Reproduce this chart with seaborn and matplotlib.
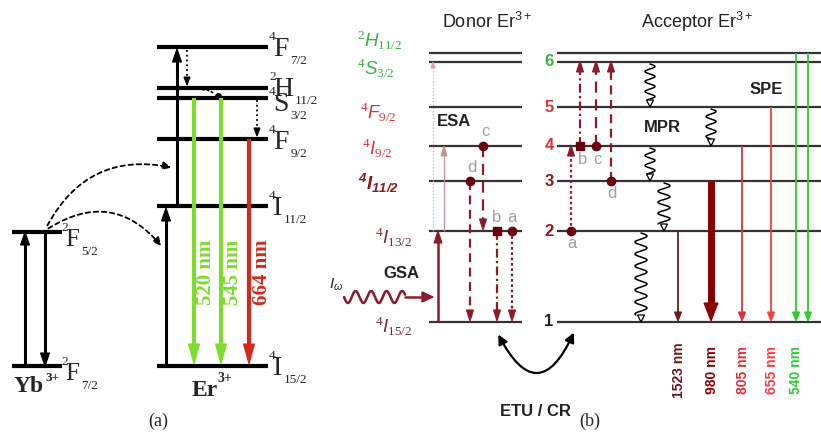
"""
Er3+ / Yb3+ energy level diagrams: (a) Yb-Er upconversion, (b) Er-Er donor/acceptor
"""

import numpy as np
import matplotlib
matplotlib.use('Agg')
import matplotlib.pyplot as plt
from matplotlib.patches import Polygon, FancyArrowPatch
import seaborn as sns

sns.set_theme(style='white')
plt.rcParams['font.family'] = ['Liberation Sans', 'DejaVu Sans']
plt.rcParams['mathtext.fontset'] = 'custom'
plt.rcParams['mathtext.rm'] = 'Liberation Serif'
plt.rcParams['mathtext.sf'] = 'Liberation Sans'
plt.rcParams['mathtext.it'] = 'Liberation Sans:italic'
plt.rcParams['mathtext.bf'] = 'Liberation Sans:italic:bold'

# ---- data: panel (a), energies above ground (diagram units) ----
yb_terms = [('2', 'F', '7/2'), ('2', 'F', '5/2')]
yb_energy = [0, 134]
er_a_terms = [('4', 'I', '15/2'), ('4', 'I', '11/2'), ('4', 'F', '9/2'),
              ('4', 'S', '3/2'), ('2', 'H', '11/2'), ('4', 'F', '7/2')]
er_a_energy = [0, 160, 227, 268, 278, 319]
emis_a_nm = [520, 545, 664]
emis_a_from = [268, 268, 227]
emis_a_color = ['#7ddc2e', '#7ddc2e', '#d42a1e']

# ---- data: panel (b) ----
donor_terms = [('4', 'I', '15/2'), ('4', 'I', '13/2'), ('4', 'I', '11/2'), ('4', 'I', '9/2'),
               ('4', 'F', '9/2'), ('4', 'S', '3/2'), ('2', 'H', '11/2')]
donor_energy = [0, 91, 141, 176, 215, 260, 269]
donor_color = ['#7a2a2a', '#7a2a2a', '#8b1a1a', '#d8343a', '#d8343a', '#3cb043', '#3cb043']
acc_index = ['1', '2', '3', '4', '5', '6']
acc_color = ['#222222', '#8b1a1a', '#8b1a1a', '#d8343a', '#d8343a', '#3cb043']
spe_nm = ['1523 nm', '980 nm', '805 nm', '655 nm', '540 nm', '']
spe_from = [91, 141, 176, 215, 269, 269]
spe_color = ['#6b1a22', '#8b0000', '#e0303a', '#ff3a3a', '#2ecc2e', '#2ecc2e']
spe_lw = [1.3, 5.0, 1.3, 1.3, 1.3, 1.3]

fig = plt.figure(figsize=(8.21, 4.37), dpi=100)
ax = fig.add_axes([0, 0, 1, 1])
ax.set_xlim(0, 821)
ax.set_ylim(437, 0)
ax.axis('off')

BASE_A, BASE_B = 366, 322
serif = 'Liberation Serif'
letter_w = {'F': 0.556, 'H': 0.722, 'S': 0.556, 'I': 0.333}


def ya(e):
    return BASE_A - e


def yb(e):
    return BASE_B - e


def term_a(x, yc, sup, L, sub, size=20):
    # serif spectroscopic term: small left superscript, big letter, low subscript
    em = size * 100 / 72
    ax.text(x, yc - 10, sup, family=serif, fontsize=9.5, ha='left', va='center')
    ax.text(x + 4, yc + 0.33 * em, L, family=serif, fontsize=size, ha='left', va='baseline')
    ax.text(x + 6 + letter_w[L] * em, yc + 14, sub, family=serif, fontsize=9.5,
            ha='left', va='center')


def varrow(x, y0, y1, color, lw, ls='-', hw=8, hl=12, hollow=False):
    d = np.sign(y1 - y0)
    ax.plot([x, x], [y0, y1 - d * hl * 0.7], color=color, lw=lw, ls=ls,
            solid_capstyle='butt', dash_capstyle='butt')
    ax.add_patch(Polygon([[x - hw / 2, y1 - d * hl], [x + hw / 2, y1 - d * hl], [x, y1]],
                         closed=True, facecolor='white' if hollow else color,
                         edgecolor=color, lw=0.8, zorder=4))


def wavy(x, y0, y1, amp=5, period=10, color='black', lw=1.1):
    y = np.linspace(y0, y1 - 7, 200)
    xs = x + amp * np.sin(2 * np.pi * (y - y0) / period)
    ax.plot(xs, y, color=color, lw=lw)
    ax.add_patch(Polygon([[x - 3.5, y1 - 7], [x + 3.5, y1 - 7], [x, y1]], closed=True,
                         facecolor='white', edgecolor=color, lw=0.9, zorder=4))


# ================= panel (a) =================
for e, (s, L, sub) in zip(yb_energy, yb_terms):
    ax.plot([12, 62], [ya(e)] * 2, color='black', lw=3.0, solid_capstyle='butt')
    term_a(61, ya(e) + 6, s, L, sub, size=18)
label_shift = [0, 0, 1, 4, -1, 0]
for e, (s, L, sub), dy in zip(er_a_energy, er_a_terms, label_shift):
    ax.plot([157, 268], [ya(e)] * 2, color='black', lw=3.0, solid_capstyle='butt')
    term_a(269, ya(e) + dy, s, L, sub)

varrow(25, ya(yb_energy[0]), ya(yb_energy[1]), 'black', 2.2, hw=9, hl=13)
varrow(45, ya(yb_energy[1]), ya(yb_energy[0]), 'black', 2.2, hw=9, hl=13)
varrow(166, ya(er_a_energy[0]), ya(er_a_energy[1]) + 2, 'black', 2.2, hw=9, hl=13)
varrow(177, ya(er_a_energy[1]), ya(er_a_energy[5]) + 2, 'black', 2.2, hw=9, hl=13)
varrow(187, ya(er_a_energy[5]) + 3, ya(er_a_energy[4]) - 3, 'black', 1.3, ls=':', hw=6, hl=8)
varrow(257, ya(er_a_energy[3]) + 2, ya(er_a_energy[2]) - 3, 'black', 1.3, ls=':', hw=6, hl=8)
ax.add_patch(FancyArrowPatch((200, ya(er_a_energy[4]) + 2), (216, ya(er_a_energy[3]) - 2),
                             connectionstyle='arc3,rad=-0.3', arrowstyle='-',
                             ls=':', lw=1.2, color='black'))
ax.plot([218], [ya(er_a_energy[3]) - 2], 'o', color='black', ms=4)

for xi, nm, e0, c in zip([194, 221, 249], emis_a_nm, emis_a_from, emis_a_color):
    varrow(xi, ya(e0), ya(0) - 2, c, 3.0, hw=11, hl=20)
for xi, nm, c in zip([206, 233, 262], emis_a_nm, emis_a_color):
    ax.text(xi, 272, f'{nm} nm', rotation=90, color=c, fontsize=15, fontweight='bold',
            family=serif, ha='center', va='center')

ax.add_patch(FancyArrowPatch((46, 228), (174, 168), connectionstyle='arc3,rad=-0.38',
                             arrowstyle='-|>', mutation_scale=12, ls=(0, (2.5, 2)),
                             lw=1.3, color='black'))
ax.add_patch(FancyArrowPatch((46, 230), (163, 248), connectionstyle='arc3,rad=-0.45',
                             arrowstyle='-|>', mutation_scale=12, ls=(0, (2.5, 2)),
                             lw=1.3, color='black'))

ax.text(14, 387, 'Yb', family=serif, fontsize=17, fontweight='bold', va='center')
ax.text(45, 378, '3+', family=serif, fontsize=9.5, fontweight='bold', va='center')
ax.text(192, 390, 'Er', family=serif, fontsize=17, fontweight='bold', va='center')
ax.text(217, 378, '3+', family=serif, fontsize=10, fontweight='bold', va='center')
ax.text(158, 421, '(a)', family=serif, fontsize=13, ha='center', va='center')

# ================= panel (b) =================
lvl_c = '#333333'
label_x = [375, 375, 358, 362, 360, 357, 357]
label_dy = [4, 6, 2, 2, 5, 6, -13]
for i, (e, (s, L, sub)) in enumerate(zip(donor_energy, donor_terms)):
    ax.plot([429, 522], [yb(e)] * 2, color=lvl_c, lw=1.6, solid_capstyle='butt')
    cmd = r'\mathbf' if i == 2 else r'\mathit'
    ax.text(label_x[i], yb(e) + label_dy[i],
            r'$^{%s{%s}}%s{%s}_{%s{%s}}$' % (cmd, s, cmd, L, cmd, sub),
            fontsize=13.5, color=donor_color[i], ha='left', va='center')
acc_energy = donor_energy[:1] + donor_energy[1:5] + [260]
for idx, e, c in zip(acc_index, acc_energy, acc_color):
    ax.plot([557, 821], [yb(e)] * 2, color=lvl_c, lw=1.6, solid_capstyle='butt')
    ax.text(549, yb(e), idx, color=c, fontsize=12, fontweight='bold', ha='center', va='center')
ax.plot([557, 821], [yb(269)] * 2, color=lvl_c, lw=1.6, solid_capstyle='butt')

ax.text(487, 22, r'Donor Er$^{\mathsf{3+}}$', fontsize=13, ha='center', va='center', color='#222222')
ax.text(697, 22, r'Acceptor Er$^{\mathsf{3+}}$', fontsize=13, ha='center', va='center', color='#222222')

dred = '#8b1a2a'
grey = '#a0a0a0'
# ESA / GSA on donor
ax.plot([433, 433], [yb(91), yb(260) + 5], color='#e0a0a8', lw=0.9, ls=':')
varrow(433, yb(260) + 6, yb(260), '#e0a0a8', 0.9, hw=4, hl=6)
varrow(444, yb(91), yb(176), '#c89098', 0.9, hw=6, hl=10)
varrow(438, yb(0), yb(91), dred, 1.8, hw=8, hl=12)
ax.text(437, 121, 'ESA', fontsize=12, fontweight='bold', color='#222222', va='center')
ax.text(383, 273, 'GSA', fontsize=12, fontweight='bold', color='#222222', va='center')

xw = np.linspace(344, 405, 200)
ax.plot(xw, 297 + 6 * np.sin(2 * np.pi * (xw - 344) / 15.5), color=dred, lw=1.8)
ax.plot([405, 424], [297, 297], color=dred, lw=1.8)
ax.add_patch(Polygon([[422, 292], [422, 302], [433, 297]], closed=True, color=dred))
ax.text(329, 285, r'$I_{\omega}$', fontsize=11, color='#222222', va='center')

# donor relaxation channels a-d and matching acceptor excitations
donor_x = {'a': 512, 'b': 497, 'c': 483, 'd': 470}
donor_start = {'a': 91, 'b': 91, 'c': 176, 'd': 141}
donor_end = {'a': 0, 'b': 0, 'c': 91, 'd': 0}
acc_x = {'a': 571, 'b': 580, 'c': 596, 'd': 611}
acc_start = {'a': 91, 'b': 176, 'c': 176, 'd': 141}
acc_end = {'a': 176, 'b': 260, 'c': 260, 'd': 260}
styles = {'a': (0, (1.2, 1.2)), 'b': (0, (4, 1.5, 1, 1.5)), 'c': (0, (5, 3)), 'd': (0, (4, 2.5))}
markers = {'a': 'o', 'b': 's', 'c': 'o', 'd': 'o'}
for k in 'abcd':
    x0 = donor_x[k]
    varrow(x0, yb(donor_start[k]), yb(donor_end[k]) - 1, dred, 1.6, ls=styles[k], hw=7, hl=11)
    ax.plot([x0], [yb(donor_start[k])], markers[k], color='#6b0010', ms=6)
    ax.text(x0 + (2 if k in 'cd' else 0), yb(donor_start[k]) - 14, k, color=grey,
            fontsize=12, ha='center', va='center')
    x1 = acc_x[k]
    varrow(x1, yb(acc_start[k]), yb(acc_end[k]) - 1, dred, 1.6, ls=styles[k], hw=7, hl=11)
    ax.plot([x1], [yb(acc_start[k])], markers[k], color='#6b0010', ms=6)
    ax.text(x1 + (3 if k == 'b' else 1), yb(acc_start[k]) + 13, k, color=grey,
            fontsize=12, ha='center', va='center')

# multiphonon relaxation
wavy(650, yb(260) + 2, yb(215), amp=5, period=10)
wavy(711, yb(215) + 2, yb(176), amp=5, period=10)
wavy(650, yb(176) + 2, yb(141), amp=5, period=10)
wavy(664, yb(141) + 2, yb(91), amp=6, period=11)
wavy(641, yb(91) + 2, yb(0), amp=6, period=12)
ax.text(662, 127, 'MPR', fontsize=12, fontweight='bold', color='#222222', ha='center', va='center')
ax.text(766, 90, 'SPE', fontsize=12, fontweight='bold', color='#222222', ha='center', va='center')

# spontaneous emission
spe_x = [678, 711, 742, 771, 796, 808]
for xi, e0, c, w, lab in zip(spe_x, spe_from, spe_color, spe_lw, spe_nm):
    big = w > 3
    varrow(xi, yb(e0), yb(0) - 1, c, w, hw=14 if big else 7, hl=18 if big else 9)
    if lab:
        ax.text(xi + (1 if xi < 790 else 0), 370, lab, rotation=90, color=c, fontsize=10,
                fontweight='bold', ha='center', va='center')

ax.add_patch(FancyArrowPatch((497, 332), (575, 330), connectionstyle='arc3,rad=1.05',
                             arrowstyle='<|-|>', mutation_scale=14, lw=1.6, color='black'))
ax.text(535, 412, 'ETU / CR', fontsize=12, fontweight='bold', color='#222222', ha='center', va='center')
ax.text(590, 421, '(b)', family=serif, fontsize=13, ha='center', va='center')

fig.savefig('out.png', dpi=100)
plt.close(fig)
